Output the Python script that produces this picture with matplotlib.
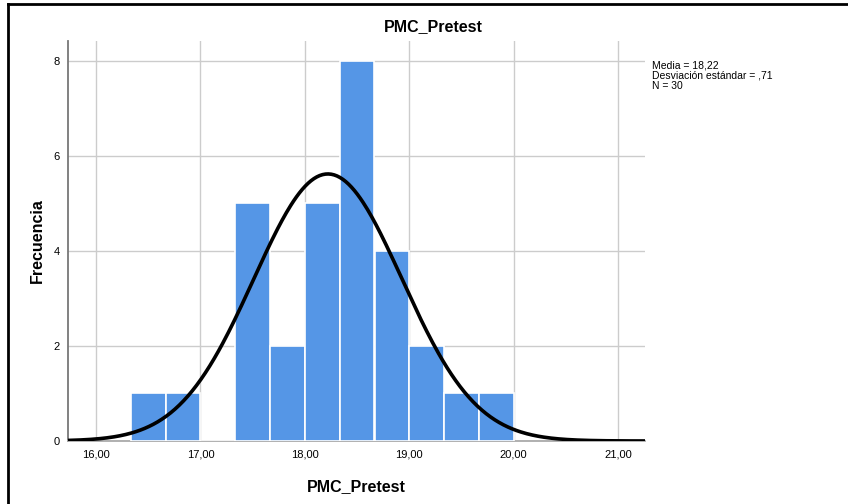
import numpy as np
import matplotlib.pyplot as plt
from matplotlib.lines import Line2D

plt.rcParams['font.family'] = ['Liberation Sans', 'DejaVu Sans']

# histogram bins (left edges) and counts
bin_left = [16.333, 16.667, 17.0, 17.333, 17.667, 18.0, 18.333, 18.667, 19.0, 19.333, 19.667]
counts = [1, 1, 0, 5, 2, 5, 8, 4, 2, 1, 1]
bin_width = 1 / 3

mean = 18.22
std = 0.71
n = 30

x_ticks = [16, 17, 18, 19, 20, 21]
x_labels = ["16,00", "17,00", "18,00", "19,00", "20,00", "21,00"]
y_ticks = [0, 2, 4, 6, 8]

fig = plt.figure(figsize=(8.48, 5.04), dpi=100)
ax = fig.add_axes([0.080, 0.125, 0.681, 0.794])

ax.bar(bin_left, counts, width=bin_width, align="edge", color="#5596e6",
       edgecolor="white", linewidth=1.2, zorder=3)

xs = np.linspace(15.73, 21.26, 400)
ys = n * bin_width / (std * np.sqrt(2 * np.pi)) * np.exp(-0.5 * ((xs - mean) / std) ** 2)
ax.plot(xs, ys, color="black", linewidth=2.6, zorder=4, solid_capstyle="butt")

ax.set_xlim(15.73, 21.26)
ax.set_ylim(0, 8.42)
ax.set_xticks(x_ticks)
ax.set_xticklabels(x_labels)
ax.set_yticks(y_ticks)
ax.tick_params(length=0, labelsize=8, pad=6)
ax.grid(True, color="#cccccc", linewidth=1, zorder=0)
ax.set_axisbelow(True)

for s in ["top", "right"]:
    ax.spines[s].set_visible(False)
ax.spines["left"].set_color("#777777")
ax.spines["bottom"].set_color("#aaaaaa")
ax.spines["left"].set_linewidth(1.3)
ax.spines["bottom"].set_linewidth(1.3)

ax.set_xlabel("PMC_Pretest", fontsize=11.5, fontweight="bold", labelpad=14)
ax.set_ylabel("Frecuencia", fontsize=11.5, fontweight="bold", labelpad=6)

fig.text(433 / 848, 1 - 27 / 504, "PMC_Pretest", fontsize=11.5, fontweight="bold",
         ha="center", va="center")
fig.text(652 / 848, 1 - 60 / 504,
         "Media = 18,22\nDesviación estándar = ,71\nN = 30",
         fontsize=7.5, ha="left", va="top", linespacing=1.05)

# frame lines of the output window
fig.add_artist(Line2D([8 / 848, 8 / 848], [0, 1 - 4 / 504], color="black", linewidth=2))
fig.add_artist(Line2D([8 / 848, 1], [1 - 4 / 504, 1 - 4 / 504], color="black", linewidth=2))

fig.savefig("out.png", dpi=100)
